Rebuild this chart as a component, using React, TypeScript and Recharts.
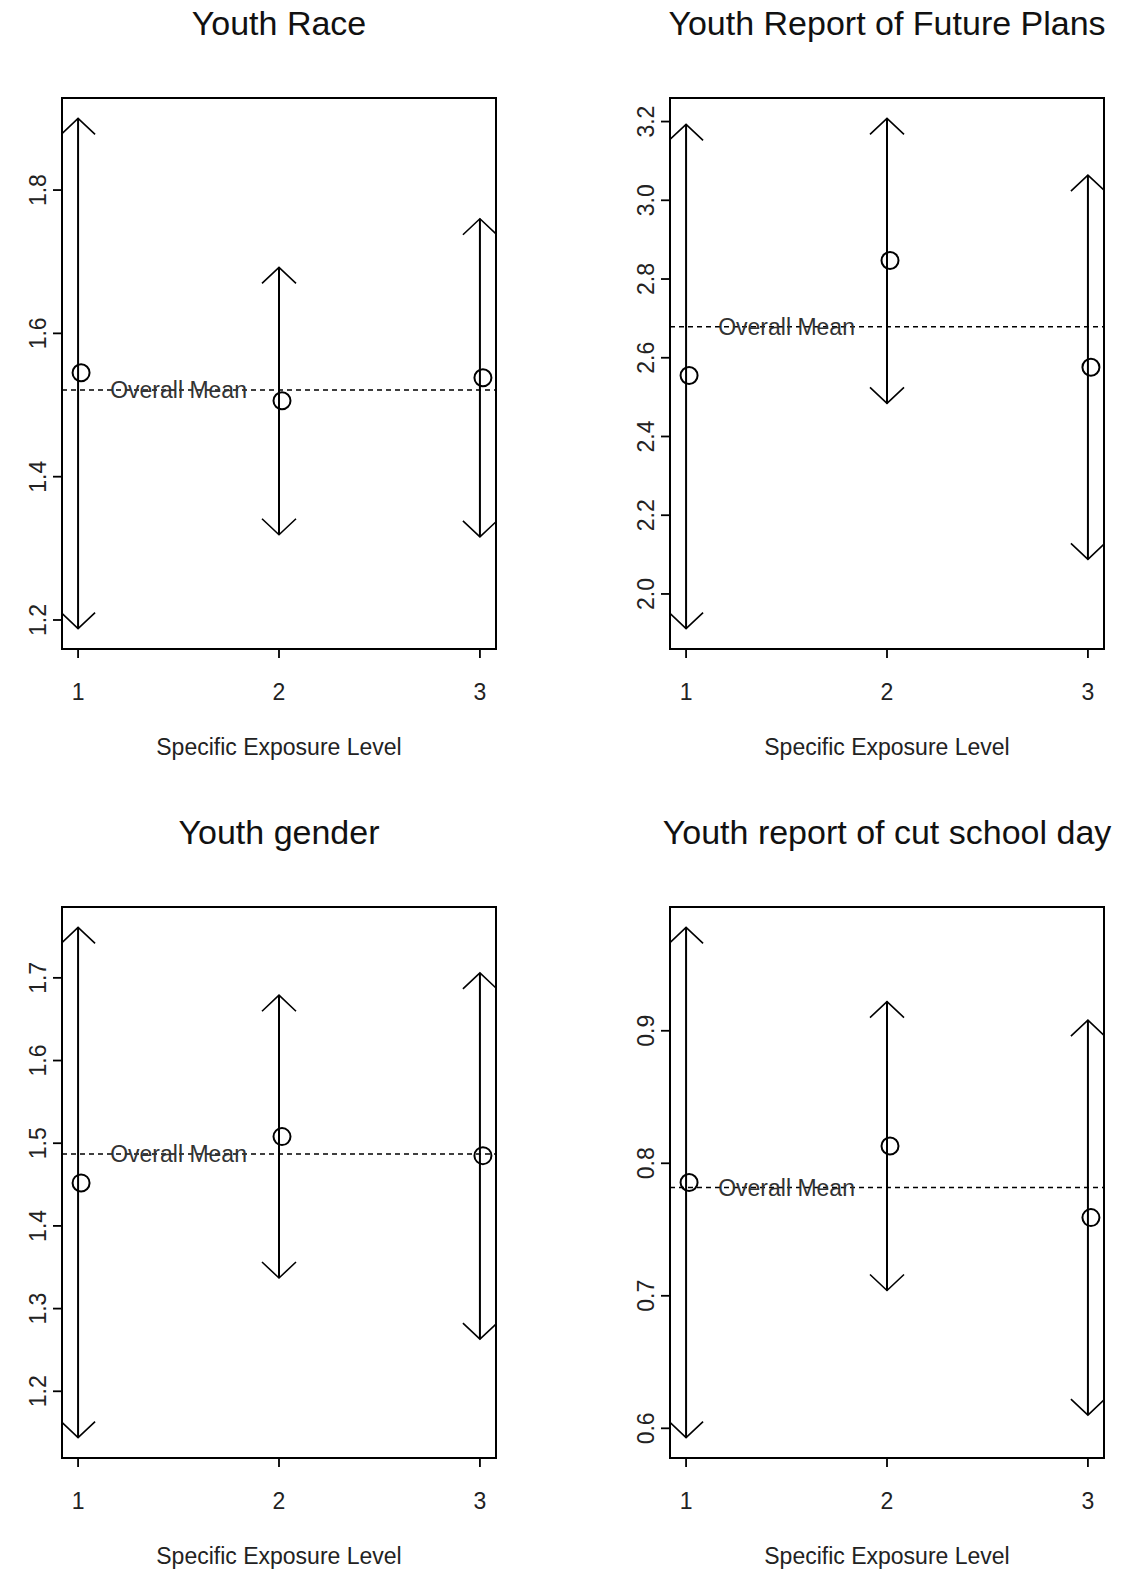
import React from 'react';
import { ComposedChart, Scatter, XAxis, YAxis, ReferenceLine, ReferenceDot, ReferenceArea } from 'recharts';

// exposure levels on the x axis
const levels = [1, 2, 3];
const xTickLabels = ['1', '2', '3'];
const xTitle = 'Specific Exposure Level';
const meanLabel = 'Overall Mean';

// Youth Race
const raceMean = [1.545, 1.506, 1.538];
const raceLower = [1.188, 1.319, 1.316];
const raceUpper = [1.9, 1.692, 1.76];
const raceOverall = 1.521;
const raceTicks = [1.2, 1.4, 1.6, 1.8];
const raceTickLabels = ['1.2', '1.4', '1.6', '1.8'];

// Youth Report of Future Plans
const plansMean = [2.555, 2.847, 2.576];
const plansLower = [1.912, 2.484, 2.088];
const plansUpper = [3.193, 3.208, 3.064];
const plansOverall = 2.679;
const plansTicks = [2.0, 2.2, 2.4, 2.6, 2.8, 3.0, 3.2];
const plansTickLabels = ['2.0', '2.2', '2.4', '2.6', '2.8', '3.0', '3.2'];

// Youth gender
const genderMean = [1.452, 1.508, 1.485];
const genderLower = [1.144, 1.337, 1.263];
const genderUpper = [1.761, 1.679, 1.706];
const genderOverall = 1.487;
const genderTicks = [1.2, 1.3, 1.4, 1.5, 1.6, 1.7];
const genderTickLabels = ['1.2', '1.3', '1.4', '1.5', '1.6', '1.7'];

// Youth report of cut school day
const cutMean = [0.7855, 0.813, 0.759];
const cutLower = [0.593, 0.704, 0.61];
const cutUpper = [0.978, 0.922, 0.908];
const cutOverall = 0.7817;
const cutTicks = [0.6, 0.7, 0.8, 0.9];
const cutTickLabels = ['0.6', '0.7', '0.8', '0.9'];

const FONT = '"Liberation Sans", Arial, Helvetica, sans-serif';
const BOX_W = 434;
const BOX_H = 551;
const BOX_TOP = 98;
const CHART_H = 763;
const COL_LEFT = [0, 561];
const COL_W = [561, 562];
const BOX_LEFT = [62, 670];
const ROW_TOP = [0, 809];

const ArrowShape = (p: any) => {
  const { x1, y1, x2, y2, clipPath } = p;
  const top = Math.min(y1, y2);
  const bot = Math.max(y1, y2);
  const dx = 17;
  const dy = 16;
  return (
    <g clipPath={clipPath}>
      <line x1={x1} y1={bot} x2={x2} y2={top} stroke="#000" strokeWidth={2} />
      <polyline points={`${x2 - dx},${top + dy} ${x2},${top} ${x2 + dx},${top + dy}`} fill="none" stroke="#000" strokeWidth={1.6} />
      <polyline points={`${x1 - dx},${bot - dy} ${x1},${bot} ${x1 + dx},${bot - dy}`} fill="none" stroke="#000" strokeWidth={1.6} />
    </g>
  );
};

const CircleShape = (p: any) => (
  <circle cx={p.cx + 3} cy={p.cy} r={8.5} fill="none" stroke="#000" strokeWidth={2} />
);

const MeanText = (p: any) => (
  <text x={p.cx} y={p.cy + 8} textAnchor="middle" fontSize={23} fontFamily={FONT} fill="#333">
    {meanLabel}
  </text>
);

interface PanelProps {
  title: string;
  mean: number[];
  lower: number[];
  upper: number[];
  overall: number;
  ticks: number[];
  tickLabels: string[];
  col: number;
  row: number;
}

const Panel = ({ title, mean, lower, upper, overall, ticks, tickLabels, col, row }: PanelProps) => {
  const lo = Math.min(...lower);
  const hi = Math.max(...upper);
  const pad = (hi - lo) * 0.04;
  const yDomain = [lo - pad, hi + pad];
  const xPad = (levels[levels.length - 1] - levels[0]) * 0.04;
  const xDomain = [levels[0] - xPad, levels[levels.length - 1] + xPad];
  const points = levels.map((x, i) => ({ x, y: mean[i] }));

  const yAxisW = BOX_LEFT[col] - COL_LEFT[col];
  const rightM = COL_W[col] - yAxisW - BOX_W;
  const xAxisH = CHART_H - BOX_TOP - BOX_H;
  const top = ROW_TOP[row];
  const center = BOX_LEFT[col] + BOX_W / 2;

  const yTick = (props: any) => {
    const i = ticks.indexOf(props.payload.value);
    const tx = props.x - 7;
    return (
      <text x={tx} y={props.y} transform={`rotate(-90 ${tx} ${props.y})`} textAnchor="middle" fontSize={23} fontFamily={FONT} fill="#222">
        {i >= 0 ? tickLabels[i] : props.payload.value}
      </text>
    );
  };

  const xTick = (props: any) => {
    const i = levels.indexOf(props.payload.value);
    return (
      <text x={props.x} y={props.y + 42} textAnchor="middle" fontSize={23} fontFamily={FONT} fill="#222">
        {i >= 0 ? xTickLabels[i] : props.payload.value}
      </text>
    );
  };

  return (
    <>
      <div style={{ position: 'absolute', left: center - 320, width: 640, top: top + 6, textAlign: 'center', fontSize: 34, lineHeight: '34px', fontFamily: FONT, color: '#111', whiteSpace: 'nowrap' }}>
        {title}
      </div>
      <div style={{ position: 'absolute', left: COL_LEFT[col], top, width: COL_W[col], height: CHART_H }}>
        <ComposedChart width={COL_W[col]} height={CHART_H} margin={{ top: BOX_TOP, right: rightM, left: 0, bottom: 0 }}>
          <XAxis
            type="number"
            dataKey="x"
            domain={xDomain}
            ticks={levels}
            allowDataOverflow
            axisLine={false}
            tickLine={{ stroke: '#000', strokeWidth: 1.8 }}
            tickSize={9}
            tickMargin={0}
            height={xAxisH}
            tick={xTick}
            interval={0}
          />
          <YAxis
            type="number"
            dataKey="y"
            domain={yDomain}
            ticks={ticks}
            allowDataOverflow
            axisLine={false}
            tickLine={{ stroke: '#000', strokeWidth: 1.8 }}
            tickSize={9}
            tickMargin={0}
            width={yAxisW}
            tick={yTick}
            interval={0}
          />
          <ReferenceArea x1={xDomain[0]} x2={xDomain[1]} y1={yDomain[0]} y2={yDomain[1]} fill="none" fillOpacity={0} stroke="#000" strokeWidth={2} ifOverflow="visible" />
          <ReferenceDot x={1.5} y={overall} r={0} shape={MeanText} ifOverflow="visible" />
          <ReferenceLine y={overall} stroke="#000" strokeWidth={1.5} strokeDasharray="5 4" />
          {levels.map((lv, i) => (
            <ReferenceLine
              key={lv}
              segment={[{ x: lv, y: lower[i] }, { x: lv, y: upper[i] }]}
              ifOverflow="hidden"
              shape={ArrowShape}
            />
          ))}
          <Scatter data={points} dataKey="y" shape={CircleShape} isAnimationActive={false} />
        </ComposedChart>
      </div>
      <div style={{ position: 'absolute', left: center - 250, width: 500, top: top + 736, textAlign: 'center', fontSize: 23, lineHeight: '23px', fontFamily: FONT, color: '#222', whiteSpace: 'nowrap' }}>
        {xTitle}
      </div>
    </>
  );
};

export default function App() {
  return (
    <div style={{ position: 'absolute', left: 0, top: 0, width: 1123, height: 1572, background: '#fff', overflow: 'hidden' }}>
      <Panel title="Youth Race" mean={raceMean} lower={raceLower} upper={raceUpper} overall={raceOverall} ticks={raceTicks} tickLabels={raceTickLabels} col={0} row={0} />
      <Panel title="Youth Report of Future Plans" mean={plansMean} lower={plansLower} upper={plansUpper} overall={plansOverall} ticks={plansTicks} tickLabels={plansTickLabels} col={1} row={0} />
      <Panel title="Youth gender" mean={genderMean} lower={genderLower} upper={genderUpper} overall={genderOverall} ticks={genderTicks} tickLabels={genderTickLabels} col={0} row={1} />
      <Panel title="Youth report of cut school day" mean={cutMean} lower={cutLower} upper={cutUpper} overall={cutOverall} ticks={cutTicks} tickLabels={cutTickLabels} col={1} row={1} />
    </div>
  );
}
